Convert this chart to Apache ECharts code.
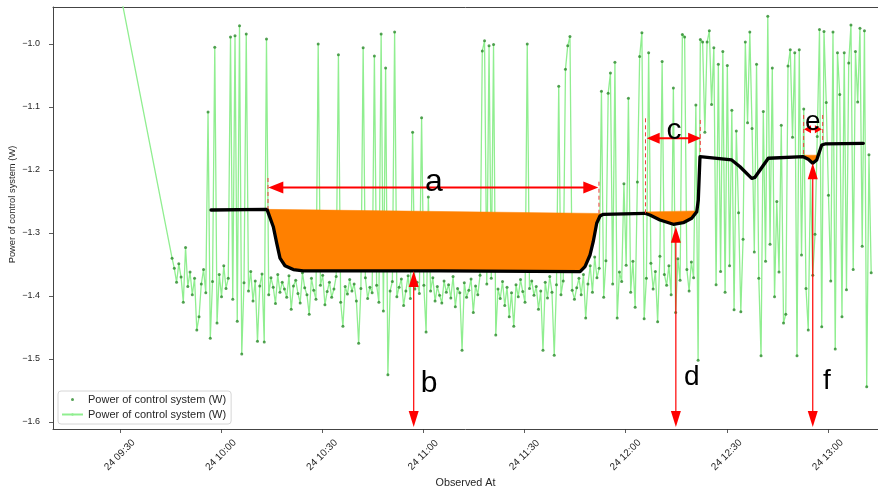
<!DOCTYPE html>
<html>
<head>
<meta charset="utf-8">
<script src="https://cdn.jsdelivr.net/npm/echarts@6/dist/echarts.min.js"></script>
<style>
html,body{margin:0;padding:0;background:#fff;}
#chart{width:878px;height:491px;}
</style>
</head>
<body>
<div id="chart"></div>
<script>
// ---------- DATA (times in minutes after 09:00 on day 24) ----------
const obsDay = 24;
const leadTime = 21.3;            // first logged sample (far above the visible range)
const leadValue = -0.676;
const sampleStartMin = 45.5;      // regular sampling afterwards
const sampleStepSec = 40;
const powerValues = [
  -1.340,-1.356,-1.378,-1.349,-1.370,-1.410,-1.323,-1.385,-1.362,-1.398,
  -1.372,-1.454,-1.433,-1.381,-1.358,-1.395,-1.108,-1.467,-1.377,-1.005,
  -1.443,-1.366,-1.401,-1.352,-1.388,-1.372,-0.989,-1.405,-0.987,-1.440,
  -0.971,-1.492,-1.379,-0.984,-1.392,-1.361,-1.408,-1.376,-1.472,-1.384,
  -1.365,-1.473,-0.992,-1.398,-1.371,-1.386,-1.412,-1.366,-1.394,-1.378,
  -1.389,-1.402,-1.368,-1.421,-1.384,-1.375,-1.396,-1.411,-1.363,-1.387,
  -1.398,-1.429,-1.372,-1.391,-1.405,-1.000,-1.383,-1.367,-1.414,-1.393,
  -1.378,-1.402,-1.389,-1.369,-1.017,-1.410,-1.448,-1.385,-1.397,-1.374,
  -1.392,-1.381,-1.408,-1.475,-1.388,-1.006,-1.371,-1.404,-1.386,-1.395,
  -1.019,-1.383,-1.410,-0.984,-1.424,-1.038,-1.525,-1.392,-1.377,-0.981,
  -1.401,-1.386,-1.373,-1.415,-1.392,-1.368,-1.404,-1.140,-1.389,-1.378,
  -1.396,-1.117,-1.383,-1.457,-1.243,-1.392,-1.371,-1.408,-1.385,-1.399,
  -1.411,-1.376,-1.394,-1.382,-1.403,-1.369,-1.417,-1.388,-1.395,-1.486,
  -1.379,-1.402,-1.391,-1.373,-1.426,-1.384,-1.398,-1.367,-1.011,-0.995,
  -1.381,-1.003,-1.372,-1.001,-1.462,-1.389,-1.404,-1.377,-1.415,-1.386,
  -1.433,-1.395,-1.448,-1.382,-1.401,-1.374,-1.393,-1.410,-1.000,-1.388,
  -1.376,-1.399,-1.385,-1.421,-1.392,-1.486,-1.378,-1.403,-1.369,-1.394,
  -1.494,-1.382,-1.067,-1.398,-1.376,-1.040,-1.003,-0.988,-1.391,-1.405,
  -1.387,-1.372,-1.398,-1.366,-1.435,-1.381,-1.352,-1.394,-1.338,-1.371,
  -1.356,-1.075,-1.402,-1.344,-1.078,-1.046,-1.381,-1.029,-1.435,-1.362,
  -1.377,-1.222,-1.351,-1.086,-1.394,-1.345,-1.418,-1.219,-1.020,-0.982,
  -1.436,-1.372,-1.014,-1.348,-1.389,-1.361,-1.441,-1.337,-1.028,-1.366,
  -1.383,-1.352,-1.398,-1.070,-1.426,-1.341,-1.375,-0.985,-0.989,-1.358,
  -1.392,-1.346,-1.371,-1.097,-1.502,-0.993,-0.997,-1.140,-0.997,-0.979,
  -1.096,-1.006,-1.382,-1.032,-1.361,-1.012,-1.394,-1.034,-1.352,-1.105,
  -1.422,-1.138,-1.268,-1.425,-1.310,-0.997,-1.125,-0.981,-1.134,-1.330,
  -1.032,-1.372,-1.495,-1.107,-1.345,-0.956,-1.318,-1.038,-1.401,-1.250,
  -1.362,-1.129,-1.443,-1.429,-1.035,-1.009,-1.148,-1.014,-1.495,-1.009,
  -1.335,-1.103,-1.388,-1.454,-1.210,-1.367,-1.302,-1.147,-0.977,-1.449,
  -0.980,-1.093,-1.240,-1.376,-0.981,-1.484,-1.014,-1.080,-1.433,-1.014,
  -1.390,-1.030,-0.970,-1.358,-1.012,-1.092,-0.975,-1.321,-0.979,-1.544,
  -1.176,-1.363
];

// smoothed (black) curve
const smoothTimes = [57.05,73.65,75.52,76.53,77.51,78.99,81.45,84.42,125.0,166.5,
  167.96,169.45,170.4,171.43,172.4,173.4,185.7,187.2,190.2,194.15,
  197.1,199.6,201.1,201.56,202.06,202.57,211.46,213.93,217.4,218.37,
  222.32,232.7,234.18,235.49,236.67,238.16,239.14,250.5];
const smoothValues = [-1.2635,-1.2625,-1.290,-1.316,-1.340,-1.352,-1.358,-1.360,-1.360,-1.3614,
  -1.3535,-1.3349,-1.3138,-1.2846,-1.273,-1.2703,-1.2687,-1.2714,-1.2794,-1.2862,
  -1.2837,-1.2767,-1.2662,-1.2476,-1.1789,-1.1762,-1.1841,-1.1948,-1.2132,-1.2116,
  -1.1814,-1.1789,-1.1830,-1.1894,-1.1841,-1.1603,-1.1587,-1.1576];

// shaded (orange) regions: straight top edge + the smoothed curve between two indices
const fillTopEdges = [
  [[73.65,-1.2625],[172.6,-1.2690]],
  [[185.7,-1.2665],[201.1,-1.2650]],
  [[232.7,-1.1765],[237.4,-1.1765]]
];
const fillCurveSpans = [[1,14],[16,22],[31,34]];

// tick labels
const xTickLabels = ['09:30','10:00','10:30','11:00','11:30','12:00','12:30','13:00'];
const yTickValues = [-1.6,-1.5,-1.4,-1.3,-1.2,-1.1,-1.0];

// annotations (data units)
const arrowFrom = [[74.04,-1.2278],[117.16,-1.3603],[186.25,-1.1497],[194.9,-1.2900],[232.9,-1.1354],[235.5,-1.1894]];
const arrowTo   = [[171.9,-1.2278],[117.16,-1.6079],[202.4,-1.1497],[194.9,-1.6079],[238.2,-1.1354],[235.5,-1.6079]];
const dashFrom  = [[73.95,-1.2127],[172.1,-1.2186],[185.9,-1.1180],[202.15,-1.1206],[232.8,-1.1127],[238.45,-1.1127]];
const dashTo    = [[73.95,-1.2619],[172.1,-1.2687],[185.9,-1.2687],[202.15,-1.1762],[232.8,-1.1762],[238.45,-1.1570]];
const markLetters = ['a','b','c','d','e','f'];
const letterPos = [[123.18,-1.2194],[121.7,-1.5391],[194.36,-1.1376],[199.6,-1.5286],[235.5,-1.1239],[239.7,-1.5355]];

// ---------- BUILD ----------
const hm = s => { const p = s.split(':'); return (+p[0] - 9) * 60 + (+p[1]); };
const pad = n => (n < 10 ? '0' : '') + n;
const fmtTime = m => { const tot = Math.round(m) + 9 * 60; return obsDay + ' ' + pad(Math.floor(tot / 60)) + ':' + pad(tot % 60); };

const powerData = [[leadTime, leadValue]].concat(
  powerValues.map((v, i) => [sampleStartMin + i * sampleStepSec / 60, v]));
const smoothData = smoothTimes.map((t, i) => [t, smoothValues[i]]);
const xTickValues = xTickLabels.map(hm);

// styles for annotations
const RED = '#ff0000';
const arrowHeads = [[15,12],[16,10],[13,11],[16,10],[7,8],[16,10]];
const arrowWidths = [2,1.2,2,1.2,2,1.2];
const letterSizes = [32,30,30,28,28,28];
const FONT = '"Liberation Sans", Arial, sans-serif';
const SPINE = {show: true, onZero: false, lineStyle: {color: '#444', width: 1}};

const chart = echarts.init(document.getElementById('chart'), null, {renderer: 'canvas'});

const option = {
  animation: false,
  backgroundColor: '#fff',
  grid: {left: 53, right: 0, top: 7, bottom: 62, show: false, containLabel: false, outerBoundsMode: 'none'},
  xAxis: [{
    type: 'value',
    min: 10.19, max: 254.85,
    name: 'Observed At', nameLocation: 'middle', nameGap: 49, nameMoveOverlap: false,
    nameTextStyle: {fontFamily: FONT, fontSize: 10.8, color: '#262626'},
    axisLine: SPINE,
    splitLine: {show: false},
    axisTick: {show: true, length: 4, lineStyle: {color: '#333', width: 0.8}, customValues: xTickValues},
    axisLabel: {
      customValues: xTickValues,
      rotate: 45, align: 'center', verticalAlign: 'middle', margin: 26,
      fontFamily: FONT, fontSize: 10, color: '#262626',
      formatter: v => fmtTime(v)
    }
  }, {
    type: 'value', position: 'top',
    min: 10.19, max: 254.85,
    axisLine: SPINE, axisTick: {show: false}, axisLabel: {show: false}, splitLine: {show: false}
  }],
  yAxis: {
    type: 'value',
    min: -1.6111, max: -0.9413,
    name: 'Power of control system (W)', nameLocation: 'middle', nameGap: 36, nameRotate: 90, nameMoveOverlap: false,
    nameTextStyle: {fontFamily: FONT, fontSize: 9.4, color: '#262626', padding: [0,0,0,27]},
    axisLine: SPINE,
    splitLine: {show: false},
    axisTick: {show: true, length: 4, lineStyle: {color: '#333', width: 0.8}, customValues: yTickValues},
    axisLabel: {
      customValues: yTickValues, margin: 13,
      fontFamily: FONT, fontSize: 9, color: '#262626',
      formatter: v => (v < 0 ? '\u2212' : '') + Math.abs(v).toFixed(1)
    }
  },
  legend: {
    left: 58, top: 391, orient: 'vertical',
    data: [{name: 'dots', icon: 'circle'}, {name: 'line'}],
    formatter: () => 'Power of control system (W)',
    itemWidth: 21, itemHeight: 3, itemGap: 2,
    padding: [2,5,3,3],
    borderColor: '#d6d6d6', borderWidth: 1, borderRadius: 3, backgroundColor: 'rgba(255,255,255,0.85)',
    textStyle: {fontFamily: FONT, fontSize: 11, color: '#262626', lineHeight: 13}
  },
  series: [
    {
      name: 'line', type: 'line', data: powerData, symbol: 'none', showSymbol: false,
      lineStyle: {color: '#90ee90', width: 1.3}, itemStyle: {color: '#90ee90'}, z: 1, clip: true
    },
    {
      name: 'dots', type: 'scatter', data: powerData, symbolSize: 3,
      itemStyle: {color: '#2a8a2a'}, z: 2, clip: true
    },
    {
      name: 'fill', type: 'custom', z: 3,
      data: fillTopEdges.map(e => [e[0][0], e[0][1]]),
      encode: {x: 0, y: 1},
      renderItem: (params, api) => {
        const i = params.dataIndex;
        const top = fillTopEdges[i];
        const span = fillCurveSpans[i];
        const pts = [api.coord(top[0]), api.coord(top[1])];
        for (let k = span[1]; k >= span[0]; k--) pts.push(api.coord([smoothTimes[k], smoothValues[k]]));
        return {type: 'polygon', shape: {points: pts}, style: {fill: '#ff8000', stroke: '#ff8000', lineWidth: 0.5}};
      }
    },
    {
      name: 'smooth', type: 'line', data: smoothData, symbol: 'none', showSymbol: false, z: 4,
      lineStyle: {color: '#000', width: 3.3, cap: 'round', join: 'round'}
    },
    {
      name: 'dashes', type: 'custom', z: 5,
      data: dashFrom.map((p, i) => [p[0], p[1], dashTo[i][0], dashTo[i][1]]),
      encode: {x: [0, 2], y: [1, 3]},
      renderItem: (params, api) => {
        const p1 = api.coord([api.value(0), api.value(1)]);
        const p2 = api.coord([api.value(2), api.value(3)]);
        return {type: 'line', shape: {x1: p1[0], y1: p1[1], x2: p2[0], y2: p2[1]},
                style: {stroke: '#f03c3c', lineWidth: 1, lineDash: [4, 3]}};
      }
    },
    {
      name: 'arrows', type: 'custom', z: 6,
      data: arrowFrom.map((p, i) => [p[0], p[1], arrowTo[i][0], arrowTo[i][1]]),
      encode: {x: [0, 2], y: [1, 3]},
      renderItem: (params, api) => {
        const i = params.dataIndex;
        const p1 = api.coord([api.value(0), api.value(1)]);
        const p2 = api.coord([api.value(2), api.value(3)]);
        const hl = arrowHeads[i][0], hw = arrowHeads[i][1];
        const dx = p2[0] - p1[0], dy = p2[1] - p1[1];
        const len = Math.hypot(dx, dy) || 1;
        const ux = dx / len, uy = dy / len, nx = -uy, ny = ux;
        const head = (tip, sx, sy) => [
          [tip[0], tip[1]],
          [tip[0] - sx * hl + nx * hw / 2, tip[1] - sy * hl + ny * hw / 2],
          [tip[0] - sx * hl - nx * hw / 2, tip[1] - sy * hl - ny * hw / 2]
        ];
        return {type: 'group', children: [
          {type: 'line', shape: {x1: p1[0] + ux * hl * 0.7, y1: p1[1] + uy * hl * 0.7, x2: p2[0] - ux * hl * 0.7, y2: p2[1] - uy * hl * 0.7},
           style: {stroke: RED, lineWidth: arrowWidths[i]}},
          {type: 'polygon', shape: {points: head(p2, ux, uy)}, style: {fill: RED}},
          {type: 'polygon', shape: {points: head(p1, -ux, -uy)}, style: {fill: RED}}
        ]};
      }
    },
    {
      name: 'letters', type: 'custom', z: 7,
      data: letterPos.map(p => [p[0], p[1]]),
      encode: {x: 0, y: 1},
      renderItem: (params, api) => {
        const i = params.dataIndex;
        const p = api.coord([api.value(0), api.value(1)]);
        return {type: 'text', x: p[0], y: p[1],
                style: {text: markLetters[i], fontSize: letterSizes[i], fontFamily: FONT, fill: '#000',
                        align: 'center', verticalAlign: 'middle'}};
      }
    }
  ]
};
chart.setOption(option);
</script>
</body>
</html>
